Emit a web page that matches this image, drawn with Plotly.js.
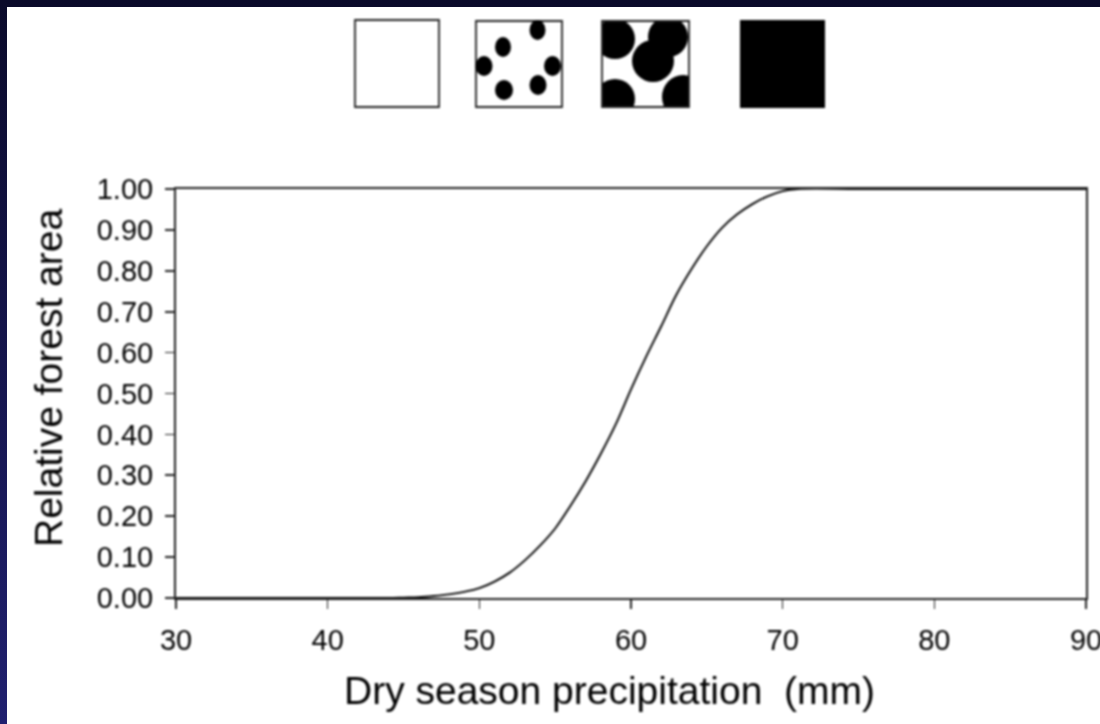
<!DOCTYPE html>
<html><head><meta charset="utf-8">
<script src="https://cdn.plot.ly/plotly-3.0.1.min.js"></script>
<style>
html,body{margin:0;padding:0;width:1100px;height:724px;overflow:hidden;background:linear-gradient(180deg,#0a0a2a 0%,#20206f 100%);}
#sheet{position:absolute;left:7px;top:7px;width:1093px;height:717px;background:#fff;}
#chart{position:absolute;left:0;top:0;width:1140px;height:724px;filter:blur(0.9px);}
</style></head><body><div id="sheet"></div><div id="chart"></div>
<script>
var precipitation=[30,35,40,44,45,46,47,48,49,50,51,52,53,54,55,56,57,58,59,60,61,62,63,64,65,66,67,68,69,70,71,75,80,90];
var forestArea=[0,0,0,0,0.001,0.002,0.005,0.009,0.015,0.024,0.04,0.062,0.092,0.128,0.17,0.225,0.285,0.352,0.425,0.51,0.59,0.665,0.742,0.805,0.86,0.905,0.938,0.963,0.982,0.995,1,1,1,1];
var xTicks=[30,40,50,60,70,80,90];
var yTicks=[0,0.1,0.2,0.3,0.4,0.5,0.6,0.7,0.8,0.9,1];
var yLabels=["0.00","0.10","0.20","0.30","0.40","0.50","0.60","0.70","0.80","0.90","1.00"];
var xTitle='Dry season precipitation  (mm)';
var yTitle='Relative forest area';
var W=1140,H=724;
function px(x){return x/W;} function py(y){return 1-y/H;}
function rect(x0,y0,x1,y1,fill,line){return {type:'rect',xref:'paper',yref:'paper',x0:px(x0),x1:px(x1),y0:py(y0),y1:py(y1),fillcolor:fill,line:{color:line||fill,width:line?1.8:0}};}
function oval(cx,cy,rx,ry){return {type:'circle',xref:'paper',yref:'paper',x0:px(cx-rx),x1:px(cx+rx),y0:py(cy-ry),y1:py(cy+ry),fillcolor:'#000',line:{width:0}};}
var shapes=[
 rect(355,20,439,107,'#fff','#222'),
 rect(476,21,562,107,'#fff','#222'),
 oval(537.5,30,8,10),oval(503,47,8,10),oval(484,66,8.5,10),oval(552.5,66,8.5,10),oval(504,90,9,10),oval(538,85,8.5,10),
 oval(615,39,20,20),oval(668,37,20,20),oval(653,61,21,21),oval(615,99,20,20),oval(683,97,21,22),
 rect(590,10,710,21,'#fff'),rect(590,107,710,125,'#fff'),rect(590,10,602,125,'#fff'),rect(689,10,710,125,'#fff'),
 rect(602,21,689,107,'rgba(0,0,0,0)','#222'),
 rect(740,20,825,108,'#000')
];
var layout={width:W,height:H,margin:{l:0,r:0,t:0,b:0},paper_bgcolor:'rgba(0,0,0,0)',plot_bgcolor:'rgba(0,0,0,0)',showlegend:false,
 font:{family:'"Liberation Sans",Arial,sans-serif',color:'#000'},
 shapes:shapes,
 annotations:[
  {text:xTitle,xref:'paper',yref:'paper',x:px(609),y:py(690),xanchor:'center',yanchor:'middle',showarrow:false,font:{size:39,color:'#000'}},
  {text:yTitle,xref:'paper',yref:'paper',x:px(48),y:py(378),xanchor:'center',yanchor:'middle',textangle:-90,showarrow:false,font:{size:39,color:'#000'}}
 ],
 xaxis:{domain:[176/W,1086/W],range:[30,90],tickvals:xTicks,ticks:'outside',ticklen:9,tickwidth:1.6,tickcolor:'#222',ticklabelstandoff:6,showgrid:false,zeroline:false,showline:true,linecolor:'#222',linewidth:2,mirror:true,tickfont:{size:29,color:'#000'}},
 yaxis:{domain:[1-598/H,1-189/H],range:[0,1],tickvals:yTicks,ticktext:yLabels,ticks:'outside',ticklen:9,tickwidth:1.6,tickcolor:'#222',ticklabelstandoff:6,showgrid:false,zeroline:false,showline:true,linecolor:'#222',linewidth:2,mirror:true,tickfont:{size:29,color:'#000'}}
};
Plotly.newPlot('chart',[{x:precipitation,y:forestArea,mode:'lines',line:{color:'#000',width:1.9,shape:'spline',smoothing:1},hoverinfo:'skip'}],layout,{displayModeBar:false,staticPlot:true});
</script></body></html>
